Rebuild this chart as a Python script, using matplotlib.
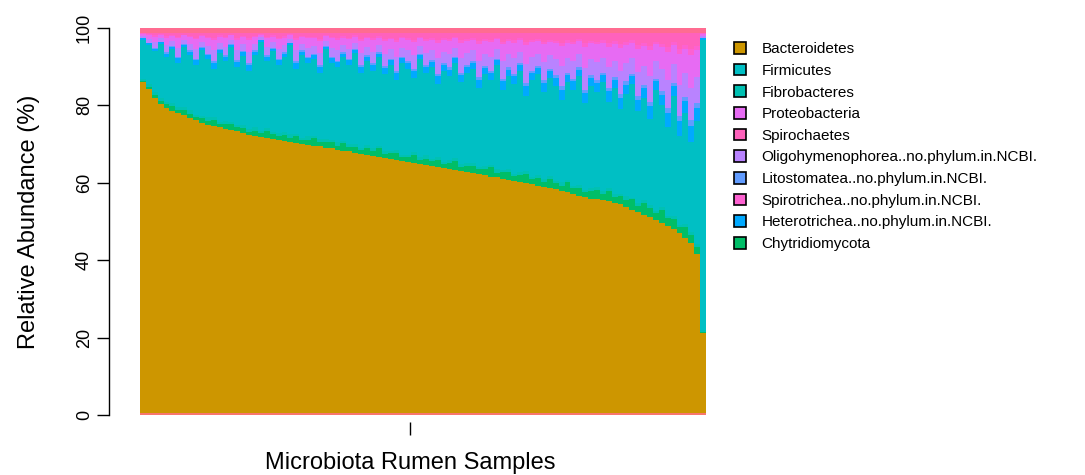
import numpy as np
import matplotlib.pyplot as plt
from matplotlib.patches import Patch

plt.rcParams['font.family'] = ['Liberation Sans', 'DejaVu Sans']

# relative abundance (%) per rumen sample, samples sorted by Bacteroidetes
minor_bottom = [0.5] * 96

bacteroidetes = [
    85.5, 83.7, 81.5, 79.8, 78.8, 78.1, 77.5, 77.0, 76.3, 75.6, 74.9, 74.5, 74.1, 73.8, 73.5, 73.2,
    72.8, 72.3, 71.8, 71.6, 71.3, 71.1, 70.9, 70.6, 70.4, 70.1, 69.8, 69.6, 69.3, 69.1, 68.9, 68.6,
    68.4, 68.1, 67.8, 67.6, 67.3, 67.0, 66.8, 66.5, 66.2, 65.9, 65.6, 65.3, 65.1, 64.8, 64.6, 64.3,
    64.0, 63.8, 63.5, 63.3, 63.0, 62.8, 62.5, 62.3, 62.0, 61.7, 61.4, 61.1, 60.9, 60.6, 60.3, 60.0,
    59.7, 59.4, 59.1, 58.8, 58.5, 58.2, 57.8, 57.4, 57.0, 56.6, 56.2, 55.8, 55.4, 55.2, 55.0, 54.7,
    54.4, 53.9, 53.3, 52.6, 52.0, 51.3, 50.7, 50.0, 49.2, 48.4, 47.6, 46.5, 45.3, 44.0, 41.0, 20.7]

chytridiomycota = [
    0.4, 0.6, 0.8, 0.9, 1.0, 1.2, 0.9, 1.4, 1.1, 0.8, 1.3, 1.0, 1.6, 0.9, 1.2, 1.5, 1.0, 1.3, 0.9,
    1.4, 1.0, 1.8, 1.2, 0.9, 1.5, 1.1, 1.7, 1.0, 1.3, 2.0, 1.1, 1.4, 1.6, 1.0, 1.9, 1.2, 1.5, 1.0,
    1.6, 1.2, 2.2, 1.1, 1.5, 1.8, 1.0, 1.4, 2.1, 1.2, 1.7, 1.3, 1.9, 1.1, 1.6, 2.3, 1.2, 1.5, 1.8, 1.3,
    1.7, 2.4, 1.2, 1.6, 2.0, 1.3, 1.8, 2.5, 1.4, 1.9, 1.2, 2.2, 1.6, 1.4, 2.6, 1.5, 1.9, 1.3, 2.0,
    2.4, 1.6, 2.8, 1.5, 2.1, 1.8, 2.6, 1.4, 3.0, 2.2, 1.7, 3.2, 1.9, 2.5, 1.6, 2.7, 2.0, 1.8, 0.3]

fibrobacteres = [
    0.5, 0.7, 0.6, 0.8, 0.5, 0.9, 0.6, 0.7, 0.8, 0.5, 0.6, 0.9, 0.7, 0.5, 0.8, 0.6, 0.7, 0.9, 0.6,
    0.8, 0.6, 0.7, 0.5, 0.9, 0.6, 0.8, 0.7, 0.5, 0.9, 0.6, 0.8, 0.7, 0.6, 0.9, 0.5, 0.8, 0.7, 0.6,
    0.9, 0.7, 0.6, 0.8, 0.5, 0.9, 0.7, 0.6, 0.8, 0.7, 0.9, 0.5, 0.8, 0.6, 0.7, 0.9, 0.6, 0.8, 0.7, 0.5,
    0.8, 0.6, 0.9, 0.7, 0.8, 0.5, 0.9, 0.7, 0.6, 0.8, 0.7, 0.9, 0.6, 0.8, 0.5, 0.7, 0.9, 0.6, 0.8,
    0.7, 0.9, 0.6, 0.8, 0.7, 0.9, 0.5, 0.8, 0.7, 0.9, 0.6, 0.8, 0.7, 0.9, 0.6, 0.8, 0.7, 0.9, 0.4]

firmicutes = [
    10.1, 10.0, 10.6, 13.8, 11.7, 13.8, 11.5, 15.4, 14.3, 13.1, 16.9, 15.1, 12.6, 17.8, 15.5, 19.4,
    15.0, 17.8, 15.2, 18.7, 23.1, 17.4, 20.9, 17.6, 19.5, 23.0, 16.8, 21.4, 19.0, 19.8, 17.2, 23.3,
    19.9, 19.3, 21.8, 20.4, 23.5, 19.4, 21.7, 20.1, 23.0, 19.7, 22.4, 18.0, 23.7, 22.2, 19.0, 25.3,
    21.4, 23.9, 18.8, 23.5, 21.7, 24.5, 21.2, 23.4, 24.5, 20.5, 23.6, 21.9, 27.0, 20.6, 23.9, 23.2,
    26.1, 19.4, 24.9, 26.0, 22.6, 25.2, 24.5, 21.4, 25.4, 24.7, 28.0, 22.3, 26.3, 24.7, 28.0, 22.4,
    27.3, 21.8, 26.5, 29.3, 23.8, 26.5, 22.2, 31.2, 26.3, 23.0, 31.0, 22.8, 28.7, 23.3, 31.8, 75.1]

heterotrichea = [
    0.3, 0.5, 0.7, 0.5, 0.9, 0.6, 1.2, 0.6, 0.9, 1.2, 0.7, 1.0, 1.4, 0.8, 1.1, 0.5, 1.3, 0.9, 1.5,
    0.9, 0.3, 1.1, 0.7, 1.2, 0.9, 0.5, 1.4, 0.9, 1.2, 1.0, 1.5, 0.6, 1.2, 1.4, 0.9, 1.2, 0.8, 1.5,
    1.1, 1.5, 0.9, 1.6, 1.2, 1.8, 1.2, 1.4, 1.8, 1.0, 1.5, 1.3, 2.0, 1.5, 1.7, 1.2, 1.9, 1.5, 1.4, 2.1,
    1.6, 1.8, 1.2, 2.2, 1.7, 2.0, 1.5, 2.4, 1.8, 1.6, 2.3, 1.8, 2.1, 2.6, 1.9, 2.2, 1.7, 2.7, 2.1,
    2.3, 1.9, 2.7, 2.1, 3.0, 2.4, 2.0, 3.0, 2.5, 3.3, 2.2, 2.8, 3.6, 2.4, 4.0, 3.1, 4.2, 3.4, 0.3]

litostomatea = [
    0.1, 0.2, 0.2, 0.1, 0.3, 0.2, 0.4, 0.2, 0.3, 0.4, 0.2, 0.3, 0.5, 0.3, 0.4, 0.2, 0.4, 0.3, 0.5,
    0.3, 0.1, 0.4, 0.2, 0.4, 0.3, 0.2, 0.5, 0.3, 0.4, 0.3, 0.5, 0.2, 0.4, 0.4, 0.3, 0.4, 0.3, 0.5,
    0.4, 0.5, 0.3, 0.5, 0.4, 0.6, 0.4, 0.5, 0.6, 0.3, 0.5, 0.4, 0.7, 0.5, 0.6, 0.4, 0.6, 0.5, 0.5, 0.7,
    0.5, 0.6, 0.4, 0.7, 0.6, 0.7, 0.5, 0.8, 0.6, 0.5, 0.8, 0.6, 0.7, 0.9, 0.6, 0.7, 0.6, 0.9, 0.7,
    0.8, 0.6, 0.9, 0.7, 1.0, 0.8, 0.7, 1.0, 0.8, 1.1, 0.7, 0.9, 1.2, 0.8, 1.3, 1.0, 1.4, 1.1, 0.1]

oligohymenophorea = [
    0.5, 1.0, 1.4, 0.9, 1.9, 1.3, 2.3, 1.1, 1.7, 2.5, 1.4, 2.0, 2.8, 1.6, 2.2, 1.1, 2.6, 1.8, 2.9,
    1.7, 0.7, 2.2, 1.4, 2.5, 1.9, 1.0, 2.8, 1.7, 2.3, 2.0, 3.1, 1.3, 2.3, 2.7, 1.9, 2.5, 1.6, 3.1,
    2.2, 2.9, 1.9, 3.3, 2.5, 3.7, 2.3, 2.8, 3.5, 2.0, 3.1, 2.6, 4.0, 2.9, 3.4, 2.3, 3.8, 3.1, 2.8, 4.3,
    3.3, 3.7, 2.5, 4.5, 3.4, 4.0, 2.9, 4.9, 3.7, 3.3, 4.6, 3.5, 4.1, 5.2, 3.8, 4.5, 3.4, 5.5, 4.1,
    4.6, 3.8, 5.3, 4.3, 5.9, 4.7, 4.0, 6.1, 5.0, 6.7, 4.5, 5.6, 7.3, 4.9, 8.0, 6.2, 8.5, 6.8, 0.5]

proteobacteria = [
    0.6, 1.0, 1.5, 0.9, 1.9, 1.3, 2.4, 1.2, 1.8, 2.5, 1.4, 2.1, 2.8, 1.6, 2.2, 1.1, 2.7, 1.8, 3.0,
    1.8, 0.7, 2.2, 1.5, 2.5, 1.9, 1.0, 2.8, 1.8, 2.4, 2.1, 3.1, 1.3, 2.4, 2.7, 1.9, 2.5, 1.6, 3.1,
    2.2, 3.0, 1.9, 3.2, 2.5, 3.7, 2.4, 2.8, 3.5, 2.1, 3.1, 2.7, 4.0, 3.0, 3.4, 2.4, 3.9, 3.1, 2.8, 4.3,
    3.2, 3.7, 2.5, 4.4, 3.4, 4.0, 3.0, 4.9, 3.7, 3.2, 4.6, 3.5, 4.1, 5.2, 3.9, 4.4, 3.4, 5.5, 4.1,
    4.6, 3.9, 5.3, 4.3, 5.9, 4.7, 4.0, 6.1, 5.1, 6.7, 4.4, 5.7, 7.3, 4.9, 8.0, 6.3, 8.5, 6.9, 0.6]

spirotrichea = [
    0.1, 0.2, 0.3, 0.2, 0.4, 0.2, 0.4, 0.2, 0.3, 0.4, 0.2, 0.4, 0.4, 0.3, 0.4, 0.2, 0.4, 0.3, 0.5,
    0.3, 0.1, 0.4, 0.3, 0.4, 0.4, 0.2, 0.4, 0.3, 0.4, 0.4, 0.5, 0.2, 0.4, 0.4, 0.4, 0.4, 0.3, 0.5,
    0.4, 0.5, 0.4, 0.6, 0.4, 0.6, 0.4, 0.4, 0.6, 0.4, 0.5, 0.4, 0.6, 0.5, 0.5, 0.4, 0.7, 0.5, 0.4, 0.7,
    0.6, 0.6, 0.4, 0.7, 0.5, 0.6, 0.5, 0.8, 0.6, 0.6, 0.7, 0.6, 0.7, 0.8, 0.7, 0.7, 0.5, 0.9, 0.7,
    0.7, 0.7, 0.9, 0.7, 1.0, 0.8, 0.6, 1.0, 0.8, 1.1, 0.7, 0.9, 1.2, 0.8, 1.4, 1.0, 1.4, 1.1, 0.1]

spirochaetes = [
    0.2, 0.4, 0.7, 0.4, 0.9, 0.7, 1.1, 0.5, 0.8, 1.3, 0.7, 1.0, 1.4, 0.7, 1.0, 0.5, 1.4, 0.9, 1.4,
    0.8, 0.4, 1.0, 0.7, 1.3, 0.9, 0.4, 1.4, 0.8, 1.1, 1.0, 1.6, 0.7, 1.1, 1.4, 0.9, 1.3, 0.7, 1.6,
    1.0, 1.4, 0.9, 1.6, 1.3, 1.9, 1.1, 1.4, 1.8, 1.0, 1.6, 1.4, 2.0, 1.4, 1.7, 1.1, 1.9, 1.6, 1.4, 2.2,
    1.6, 1.9, 1.3, 2.3, 1.7, 2.0, 1.4, 2.5, 1.9, 1.6, 2.3, 1.8, 2.1, 2.6, 1.9, 2.3, 1.7, 2.8, 2.1,
    2.3, 1.9, 2.7, 2.2, 3.0, 2.4, 2.0, 3.1, 2.6, 3.4, 2.3, 2.9, 3.7, 2.5, 4.1, 3.2, 4.3, 3.5, 0.2]

legend_names = ['Bacteroidetes', 'Firmicutes', 'Fibrobacteres', 'Proteobacteria', 'Spirochaetes',
                'Oligohymenophorea..no.phylum.in.NCBI.', 'Litostomatea..no.phylum.in.NCBI.',
                'Spirotrichea..no.phylum.in.NCBI.', 'Heterotrichea..no.phylum.in.NCBI.',
                'Chytridiomycota']

colors = {
    'Bacteroidetes': '#CD9600',
    'Firmicutes': '#00BFC4',
    'Fibrobacteres': '#00C1B2',
    'Proteobacteria': '#E76BF3',
    'Spirochaetes': '#FF62BC',
    'Oligohymenophorea..no.phylum.in.NCBI.': '#B983FF',
    'Litostomatea..no.phylum.in.NCBI.': '#619CFF',
    'Spirotrichea..no.phylum.in.NCBI.': '#FD61D1',
    'Heterotrichea..no.phylum.in.NCBI.': '#00A9FF',
    'Chytridiomycota': '#00BE67',
}

# stacking order, bottom to top
stack = [
    (minor_bottom, '#F8766D'),
    (bacteroidetes, colors['Bacteroidetes']),
    (chytridiomycota, colors['Chytridiomycota']),
    (fibrobacteres, colors['Fibrobacteres']),
    (firmicutes, colors['Firmicutes']),
    (heterotrichea, colors['Heterotrichea..no.phylum.in.NCBI.']),
    (litostomatea, colors['Litostomatea..no.phylum.in.NCBI.']),
    (oligohymenophorea, colors['Oligohymenophorea..no.phylum.in.NCBI.']),
    (proteobacteria, colors['Proteobacteria']),
    (spirotrichea, colors['Spirotrichea..no.phylum.in.NCBI.']),
    (spirochaetes, colors['Spirochaetes']),
]

n = len(bacteroidetes)
edges = np.arange(n + 1)

fig = plt.figure(figsize=(10.85, 4.75), dpi=100)
ax = fig.add_axes([140 / 1085, 1 - 415 / 475, 566 / 1085, 387 / 475])

# each layer is one filled step polygon so neighbouring bars have no seams
bottom = np.zeros(n)
for vals, col in stack:
    top = bottom + np.array(vals)
    ax.stairs(top, edges, baseline=bottom, fill=True, color=col, linewidth=0)
    bottom = top
# everything else up to 100 %
ax.stairs(np.full(n, 100.0), edges, baseline=bottom, fill=True, color='#FF6C91', linewidth=0)

ax.set_xlim(0, n)
ax.set_ylim(0, 100)

for s in ['top', 'right']:
    ax.spines[s].set_visible(False)
ax.spines['left'].set_position(('outward', 22))
ax.spines['left'].set_bounds(0, 100)
ax.spines['left'].set_linewidth(1.0)
ax.spines['bottom'].set_visible(False)
ax.spines['bottom'].set_position(('outward', 5))

ax.set_yticks([0, 20, 40, 60, 80, 100])
ax.set_yticklabels(['0', '20', '40', '60', '80', '100'], rotation=90, va='center')
ax.tick_params(axis='y', length=9, width=1.0, labelsize=13, pad=3)
ax.set_xticks([n * 270 / 566])
ax.set_xticklabels([''])
ax.tick_params(axis='x', length=9, width=1.0)

ax.set_ylabel('Relative Abundance (%)', fontsize=17)
ax.yaxis.set_label_coords(-0.177, 0.5)
ax.set_xlabel('Microbiota Rumen Samples', fontsize=17)
ax.xaxis.set_label_coords(270 / 566, -0.095)

handles = [Patch(facecolor=colors[nm], edgecolor='black', linewidth=1.2) for nm in legend_names]
fig.legend(handles, legend_names, loc='upper left', bbox_to_anchor=(728 / 1085, 1 - 36 / 475),
           frameon=False, fontsize=11, handlelength=0.8, handleheight=0.8,
           handletextpad=1.0, labelspacing=0.49, borderaxespad=0)

fig.savefig('out.png', dpi=100)
